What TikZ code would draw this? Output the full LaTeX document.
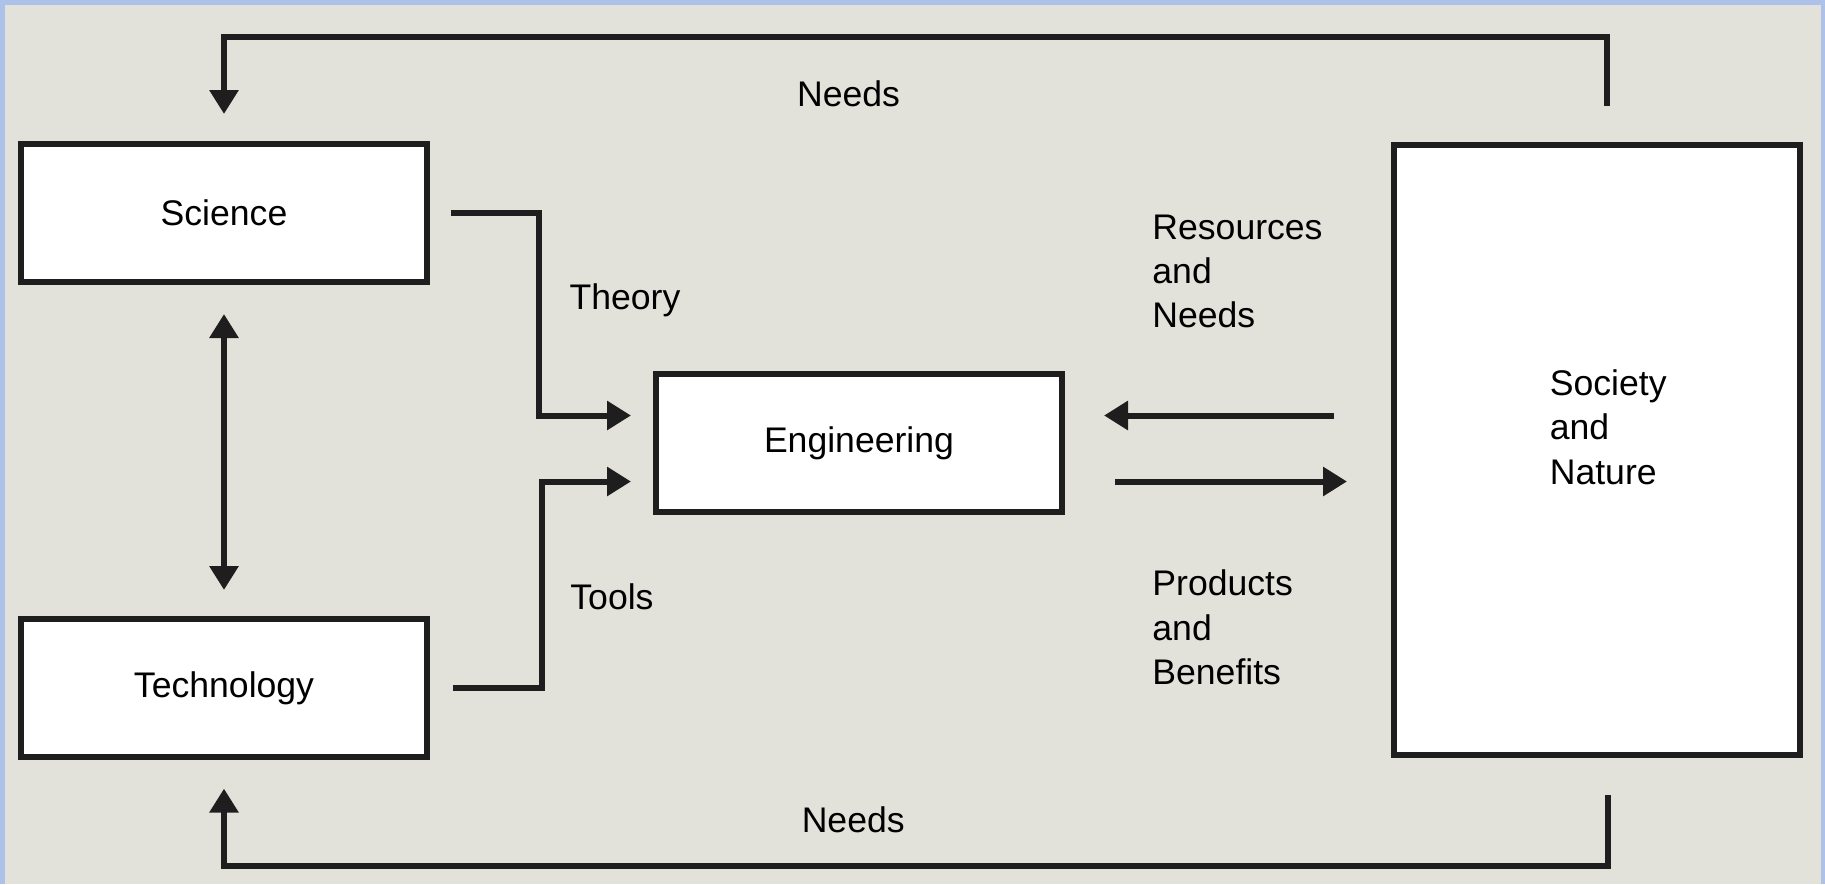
\documentclass[tikz,border=0pt]{standalone}
\usepackage{fontspec}
\setmainfont{Liberation Sans}
\usetikzlibrary{arrows.meta, positioning}

\definecolor{framebg}{RGB}{174,194,233}
\definecolor{panelbg}{RGB}{227,226,218}
\definecolor{ink}{RGB}{30,30,30}

\tikzset{
  block/.style={draw=ink, fill=white, line width=3pt, minimum width=203pt,
                minimum height=69pt, inner sep=0pt},
  link/.style={draw=ink, line width=3pt},
  lbl/.style={inner sep=0pt, align=left, anchor=west}
}

\begin{document}
\begin{tikzpicture}[font=\fontsize{17.8}{22.1}\selectfont, on grid,
    node distance=237.5pt, >={Triangle[width=14pt,length=12pt]}]
  % frame and panel
  \useasboundingbox (-112pt,106.5pt) rectangle (800.5pt,-335.5pt);
  \fill[framebg] (-112pt,106.5pt) rectangle (800.5pt,-335.5pt);
  \fill[panelbg] (-109.5pt,104pt) rectangle (798.5pt,-335.5pt);

  \node[block] (sci) {Science};
  \node[block] (tech) [below=of sci] {Technology};
  \node[block] (eng) [below right=115pt and 317.5pt of sci] {Engineering};
  \node[block, minimum height=305pt] (soc) [below right=118.5pt and 686.5pt of sci] {};
  \node[lbl] (soctext) at ([xshift=-23.8pt,yshift=11.4pt]soc.center) {Society\\and\\Nature};

  \coordinate (wu) at ([yshift=13.75pt]eng.west);
  \coordinate (wl) at ([yshift=-19.25pt]eng.west);
  \coordinate (eu) at ([yshift=13.75pt]eng.east);
  \coordinate (el) at ([yshift=-19.25pt]eng.east);

  % needs going back from society
  \draw[link, ->, shorten >=13.5pt] ([xshift=5pt,yshift=18pt]soc.north) -- ++(0,34.5pt) -| (sci.north);
  \draw[link, ->, shorten >=14.3pt] ([xshift=5.5pt,yshift=-18.5pt]soc.south) -- ++(0,-35.5pt) -| (tech.south);

  % science and technology
  \draw[link, <->, shorten <=14.5pt, shorten >=13pt] (sci.south) -- (tech.north);

  % theory and tools
  \draw[link, ->, shorten >=11pt] ([xshift=10.5pt]sci.east) -- ++(44pt,0) |- (wu);
  \draw[link, ->, shorten >=11pt] ([xshift=11.5pt]tech.east) -- ++(44.4pt,0) |- (wl);

  % exchange with society
  \draw[link, ->, shorten <=28.5pt, shorten >=19.5pt] (eu -| soc.west) -- (eu);
  \draw[link, ->, shorten <=25pt, shorten >=22pt] (el) -- (el -| soc.west);

  \node (needtop) at ([xshift=312.3pt,yshift=59.4pt]sci.center) {Needs};
  \node (needbot) at ([xshift=314.6pt,yshift=-303.3pt]sci.center) {Needs};
  \node[lbl] (theory) at ([xshift=172.6pt,yshift=-43.8pt]sci.center) {Theory};
  \node[lbl] (tools) at ([xshift=173pt,yshift=-192.1pt]sci.center) {Tools};
  \node[lbl] (res) at ([xshift=464pt,yshift=-29.1pt]sci.center) {Resources\\and\\Needs};
  \node[lbl] (prod) at ([xshift=464pt,yshift=-207.2pt]sci.center) {Products\\and\\Benefits};
\end{tikzpicture}
\end{document}
